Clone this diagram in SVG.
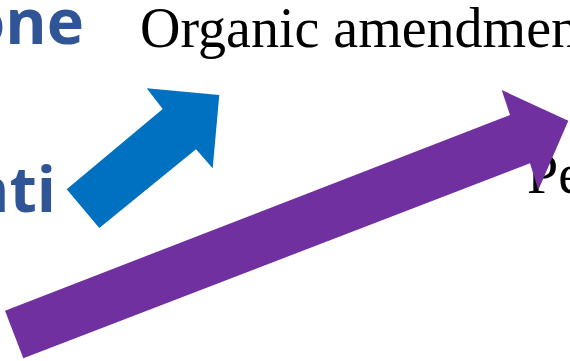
<svg xmlns="http://www.w3.org/2000/svg" width="570" height="361" viewBox="0 0 570 361">
<style>
.serif{font-family:"Liberation Serif","Times New Roman",serif;font-size:56px;fill:#000}
.bold{font-family:"Open Sans","Noto Sans",sans-serif;font-weight:bold;font-size:63px;fill:#2F5597}
</style>
<rect width="570" height="361" fill="#fff"/>
<g id="label-one"><text class="bold" x="84" y="44" text-anchor="end">one</text></g>
<g id="label-nti"><text class="bold" x="56" y="212" text-anchor="end">nti</text></g>
<g id="node-organic"><text class="serif" x="140" y="47">Organic amendmen</text></g>
<g id="node-pe"><text class="serif" x="527" y="193">Pe</text></g>
<g id="connectors">
<polygon id="arrow-blue" fill="#0070C0" points="66.7,189.3 99.3,228 196,149.3 212.7,168.3 219.3,95 146.7,88.3 162.7,109"/>
<polygon id="arrow-purple" fill="#7030A0" points="5,310.7 23.3,358.3 530,163.3 538.3,190 568.3,120.7 501.7,90 510,115"/>
</g>
</svg>
